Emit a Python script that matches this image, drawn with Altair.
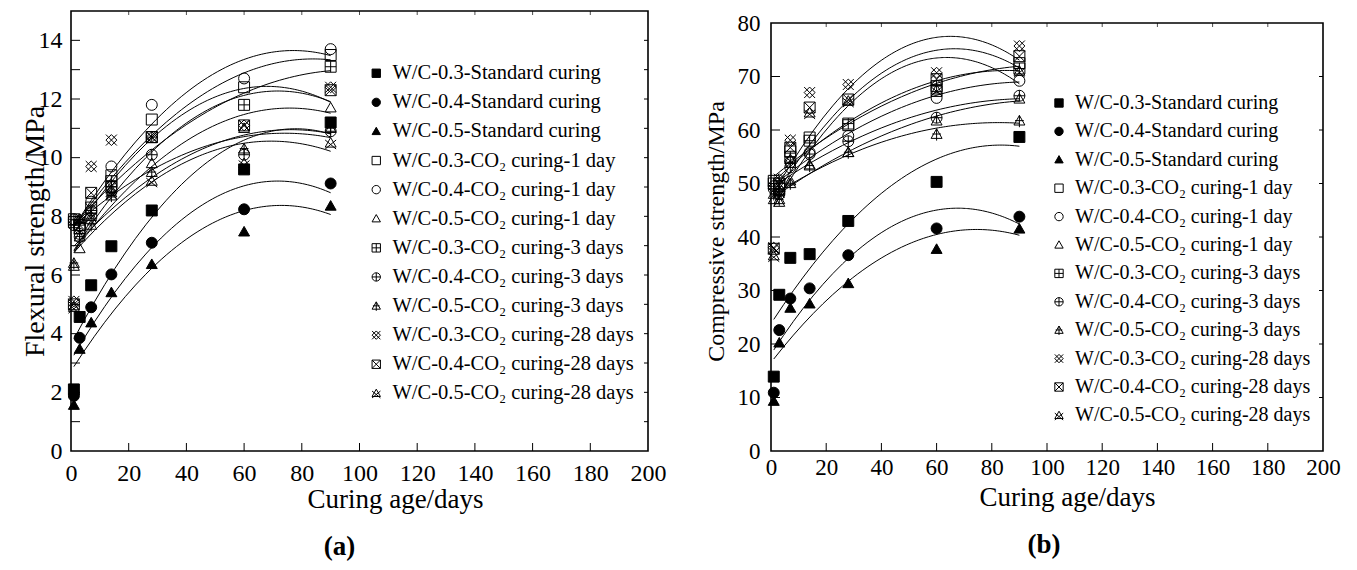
import altair as alt
import pandas as pd

# ---------------- data ----------------
AGES = [1, 3, 7, 14, 28, 60, 90]

SERIES = [
    "W/C-0.3-Standard curing",
    "W/C-0.4-Standard curing",
    "W/C-0.5-Standard curing",
    "W/C-0.3-CO\u2082 curing-1 day",
    "W/C-0.4-CO\u2082 curing-1 day",
    "W/C-0.5-CO\u2082 curing-1 day",
    "W/C-0.3-CO\u2082 curing-3 days",
    "W/C-0.4-CO\u2082 curing-3 days",
    "W/C-0.5-CO\u2082 curing-3 days",
    "W/C-0.3-CO\u2082 curing-28 days",
    "W/C-0.4-CO\u2082 curing-28 days",
    "W/C-0.5-CO\u2082 curing-28 days",
]

# Flexural strength (MPa)
F_03_STD = [2.1, 4.57, 5.65, 6.98, 8.2, 9.6, 11.2]
F_04_STD = [1.88, 3.86, 4.9, 6.02, 7.1, 8.24, 9.12]
F_05_STD = [1.56, 3.47, 4.37, 5.4, 6.36, 7.47, 8.35]
F_03_1D = [7.8, 7.6, 8.3, 9.4, 11.3, 12.4, 13.5]
F_04_1D = [7.9, 7.3, 8.5, 9.7, 11.8, 12.7, 13.7]
F_05_1D = [6.3, 6.9, 7.9, 8.9, 9.8, 11.0, 11.7]
F_03_3D = [7.9, 7.7, 8.1, 9.2, 10.7, 11.8, 13.1]
F_04_3D = [7.7, 7.4, 8.2, 9.0, 10.1, 10.1, 10.9]
F_05_3D = [6.4, 7.3, 7.7, 8.7, 9.5, 10.3, 11.0]
F_03_28D = [5.1, 7.9, 9.7, 10.6, 10.7, 11.1, 12.4]
F_04_28D = [5.0, 7.7, 8.8, 9.0, 10.7, 11.1, 12.3]
F_05_28D = [4.9, 7.9, 8.0, 8.8, 9.2, 9.8, 10.5]

# Compressive strength (MPa)
C_03_STD = [13.9, 29.2, 36.1, 36.8, 43.0, 50.3, 58.7]
C_04_STD = [10.9, 22.6, 28.5, 30.4, 36.6, 41.6, 43.8]
C_05_STD = [9.3, 20.2, 26.7, 27.5, 31.3, 37.7, 41.5]
C_03_1D = [50.5, 49.5, 56.0, 58.6, 60.9, 67.3, 72.5]
C_04_1D = [49.5, 48.5, 54.0, 55.8, 58.9, 66.0, 69.2]
C_05_1D = [47.0, 46.5, 50.5, 53.5, 55.8, 61.7, 65.8]
C_03_3D = [50.0, 49.0, 55.0, 58.0, 61.2, 68.2, 71.5]
C_04_3D = [49.0, 48.0, 53.0, 55.5, 57.9, 62.3, 66.4]
C_05_3D = [48.0, 47.0, 50.0, 53.3, 55.8, 59.2, 61.7]
C_03_28D = [38.0, 50.8, 58.1, 67.0, 68.5, 70.7, 75.7]
C_04_28D = [37.8, 50.0, 56.7, 64.2, 65.7, 69.5, 73.8]
C_05_28D = [36.5, 48.5, 54.5, 63.2, 65.4, 67.5, 71.0]

FLEX = [F_03_STD, F_04_STD, F_05_STD, F_03_1D, F_04_1D, F_05_1D,
        F_03_3D, F_04_3D, F_05_3D, F_03_28D, F_04_28D, F_05_28D]
COMP = [C_03_STD, C_04_STD, C_05_STD, C_03_1D, C_04_1D, C_05_1D,
        C_03_3D, C_04_3D, C_05_3D, C_03_28D, C_04_28D, C_05_28D]

X_TICKS = [0, 20, 40, 60, 80, 100, 120, 140, 160, 180, 200]
FLEX_LABELS = [0, 2, 4, 6, 8, 10, 12, 14]
FLEX_TICKS = list(range(1, 15))
COMP_LABELS = [0, 10, 20, 30, 40, 50, 60, 70, 80]
COMP_TICKS = [10, 20, 30, 40, 50, 60, 70]

# ---------------- symbols ----------------
SQ = "M-1,-1L1,-1L1,1L-1,1Z"
TRI = "M0,-1L1,0.75L-1,0.75Z"
CIR = "M-1,0A1,1,0,1,1,1,0A1,1,0,1,1,-1,0Z"
SHAPES = [
    SQ, "circle", TRI,
    SQ, "circle", TRI,
    SQ + "M0,-1L0,1M-1,0L1,0",
    CIR + "M0,-1L0,1M-1,0L1,0",
    TRI + "M0,-1L0,1.15M-0.8,-0.05L0.8,-0.05",
    "M0,-1L1,0L0,1L-1,0ZM-1,-1L1,1M-1,1L1,-1",
    SQ + "M-1,-1L1,1M-1,1L1,-1",
    TRI + "M-1,-0.55L1,1.1M1,-0.55L-1,1.1",
]
FILLS = ["black"] * 3 + ["transparent"] * 9
STROKES = ["black"] * 12

FONT = "Liberation Serif"


def long_df(values):
    rows = []
    for name, vals in zip(SERIES, values):
        for a, v in zip(AGES, vals):
            rows.append({"series": name, "age": a, "value": v})
    return pd.DataFrame(rows)


def panel(values, ytitle, ytop, ydom, ylabels, yticks, W, H, ytfs, lab_fs,
          lab_pad, xlab_pad, ytitle_x, xtitle_x, xtitle_y, leg_x, leg_y, leg_fs,
          row_pad, caption, cap_dx):
    df = long_df(values)
    xs = alt.Scale(domain=[0, 200], nice=False, zero=False)
    ys = alt.Scale(domain=[0, ydom], nice=False, zero=False)
    x_enc = alt.X("age:Q", scale=xs, axis=alt.Axis(
        values=X_TICKS, title="Curing age/days", ticks=False, tickSize=0,
        domain=False, grid=False, labelFlush=False, labelOverlap=False,
        labelFont=FONT, labelFontSize=lab_fs, labelColor="black", labelPadding=xlab_pad,
        titleFont=FONT, titleFontSize=27, titleFontWeight="normal", titleColor="black",
        titleX=xtitle_x, titleY=xtitle_y, titleBaseline="middle", titleAlign="center"))
    y_enc = alt.Y("value:Q", scale=ys, axis=alt.Axis(
        values=ylabels, title=ytitle, ticks=False, tickSize=0,
        domain=False, grid=False, labelFlush=False, labelOverlap=False,
        labelFont=FONT, labelFontSize=lab_fs, labelColor="black", labelPadding=lab_pad,
        titleFont=FONT, titleFontSize=ytfs, titleFontWeight="normal", titleColor="black",
        titleX=ytitle_x, titleY=H / 2, titleBaseline="middle", titleAlign="center",
        titleAngle=270))

    leg = alt.Legend(orient="none", legendX=leg_x, legendY=leg_y, title=None,
                     labelFont=FONT, labelFontSize=leg_fs, labelColor="black", labelLimit=0,
                     symbolSize=70, symbolStrokeColor="black", symbolStrokeWidth=1,
                     rowPadding=row_pad, labelOffset=6)

    points = alt.Chart(df).mark_point(filled=True, opacity=1, strokeWidth=1, size=120).encode(
        x=x_enc, y=y_enc,
        shape=alt.Shape("series:N", scale=alt.Scale(domain=SERIES, range=SHAPES), legend=leg),
        fill=alt.Fill("series:N", scale=alt.Scale(domain=SERIES, range=FILLS), legend=leg),
        stroke=alt.Stroke("series:N", scale=alt.Scale(domain=SERIES, range=STROKES), legend=leg),
    )
    curves = alt.Chart(df).transform_regression(
        "age", "value", groupby=["series"], method="poly", order=2, extent=[1, 90]
    ).mark_line(color="black", strokeWidth=1).encode(x=x_enc, y=y_enc, detail="series:N")

    ytick_df = pd.DataFrame({"value": yticks})
    xtick_df = pd.DataFrame({"age": X_TICKS[1:-1]})
    yt_left = alt.Chart(ytick_df).mark_rule(color="black", strokeWidth=1).encode(
        y=y_enc, x=alt.value(0), x2=alt.value(9))
    yt_right = alt.Chart(ytick_df).mark_rule(color="black", strokeWidth=1).encode(
        y=y_enc, x=alt.value(W - 4), x2=alt.value(W))
    xt_bot = alt.Chart(xtick_df).mark_rule(color="black", strokeWidth=1).encode(
        x=x_enc, y=alt.value(H), y2=alt.value(H - 8))
    xt_top = alt.Chart(xtick_df).mark_tick(color="black", thickness=1, size=4,
                                           orient="vertical", yOffset=2).encode(
        x=x_enc, y=alt.datum(ytop))
    frame = alt.Chart(pd.DataFrame({"k": [0]})).mark_rect(
        fill="transparent", stroke="black", strokeWidth=1.6).encode(
        x=alt.datum(0), x2=alt.datum(200), y=alt.datum(0), y2=alt.datum(ytop))

    return alt.layer(curves, points, yt_left, yt_right, xt_bot, xt_top, frame).properties(
        width=W, height=H,
        title=alt.TitleParams(caption, orient="bottom", anchor="middle", frame="group",
                              dx=cap_dx, offset=22, font=FONT, fontSize=27,
                              fontWeight="bold", color="black"),
    )


H = 440
left = panel(FLEX, "Flexural strength/MPa", 15, 15, FLEX_LABELS, FLEX_TICKS,
             577, H, 28, 24, 9, 10, -36, 324, 48, 295, 52, 20.5, 8.1, "(a)", -20)
right = panel(COMP, "Compressive strength/MPa", 80, 80 * 440 / 428, COMP_LABELS, COMP_TICKS,
              552, H, 24, 23, 11, 5, -55, 296, 46, 278, 82, 20, 8.4, "(b)", -3)

chart = alt.hconcat(left, right, spacing=123, bounds="flush").resolve_scale(
    x="independent", y="independent", shape="independent", fill="independent",
    stroke="independent"
).resolve_legend(shape="independent", fill="independent", stroke="independent").resolve_axis(
    x="independent", y="independent"
).configure_view(strokeWidth=0).properties(
    padding={"left": 20, "top": 10, "right": 5, "bottom": 5}, background="white")

chart.save("out.html", embed_options={"renderer": "svg", "actions": False})
